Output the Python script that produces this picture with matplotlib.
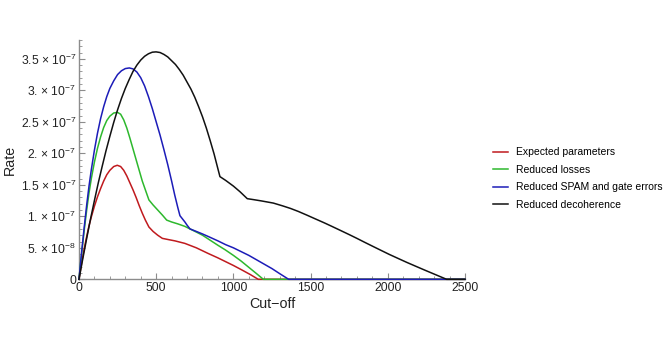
import matplotlib.pyplot as plt
from matplotlib.ticker import MultipleLocator, FixedLocator
import numpy as np

plt.rcParams['font.family'] = ['Liberation Sans', 'DejaVu Sans']
plt.rcParams['mathtext.fontset'] = 'custom'
plt.rcParams['mathtext.rm'] = 'Liberation Sans'
plt.rcParams['mathtext.it'] = 'Liberation Sans'

# cut-off vs rate (rate in units of 1e-7)
x_expected = [0, 10, 20, 35, 50, 65, 80, 100, 120, 140, 160, 180, 200, 225, 248,
              270, 290, 310, 330, 350, 370, 390, 410, 430, 453, 480, 510, 540,
              580, 622, 686, 760, 837, 900, 950, 1000, 1054, 1110, 1161, 2500]
y_expected = [0, 0.15, 0.3, 0.5, 0.68, 0.85, 0.99, 1.16, 1.31, 1.44, 1.56, 1.66,
              1.73, 1.79, 1.81, 1.79, 1.73, 1.64, 1.53, 1.42, 1.3, 1.17, 1.05,
              0.94, 0.83, 0.76, 0.7, 0.65, 0.63, 0.61, 0.57, 0.5, 0.41, 0.34,
              0.28, 0.22, 0.15, 0.075, 0, 0]

x_losses = [0, 10, 20, 35, 50, 65, 80, 100, 120, 140, 160, 180, 200, 225, 250,
            270, 290, 310, 330, 350, 370, 390, 410, 430, 453, 480, 510, 540, 568,
            600, 640, 686, 719, 760, 800, 850, 900, 946, 1000, 1050, 1100, 1150,
            1194, 2500]
y_losses = [0, 0.24, 0.47, 0.8, 1.1, 1.37, 1.6, 1.86, 2.08, 2.26, 2.41, 2.52,
            2.59, 2.64, 2.65, 2.62, 2.53, 2.4, 2.24, 2.07, 1.9, 1.73, 1.56, 1.42,
            1.26, 1.18, 1.1, 1.02, 0.94, 0.91, 0.88, 0.84, 0.8, 0.75, 0.7, 0.62,
            0.54, 0.47, 0.38, 0.29, 0.19, 0.09, 0, 0]

x_spam = [0, 10, 20, 35, 50, 65, 80, 100, 120, 140, 160, 180, 200, 225, 250, 275,
          300, 326, 350, 375, 400, 425, 450, 475, 500, 525, 550, 575, 600, 620,
          640, 654, 670, 686, 700, 719, 760, 800, 837, 900, 950, 1000, 1050,
          1100, 1150, 1200, 1250, 1300, 1358, 2500]
y_spam = [0, 0.25, 0.5, 0.85, 1.18, 1.48, 1.74, 2.05, 2.32, 2.55, 2.74, 2.9,
          3.03, 3.15, 3.25, 3.31, 3.345, 3.355, 3.34, 3.29, 3.2, 3.07, 2.9, 2.71,
          2.5, 2.29, 2.06, 1.82, 1.56, 1.34, 1.14, 1.01, 0.96, 0.91, 0.86, 0.8,
          0.76, 0.72, 0.68, 0.61, 0.55, 0.5, 0.44, 0.38, 0.31, 0.24, 0.17, 0.09,
          0, 0]

x_decoh = [0, 25, 50, 75, 100, 125, 150, 175, 200, 225, 250, 275, 300, 325, 350,
           375, 400, 425, 450, 475, 499, 525, 550, 575, 600, 625, 650, 675, 700,
           725, 750, 775, 800, 825, 850, 875, 895, 913, 950, 1000, 1043, 1090,
           1130, 1180, 1259, 1320, 1370, 1420, 1475, 1530, 1590, 1640, 1690,
           1750, 1800, 1850, 1906, 1960, 2010, 2070, 2122, 2190, 2250, 2320,
           2381, 2500]
y_decoh = [0, 0.33, 0.65, 0.96, 1.25, 1.53, 1.79, 2.04, 2.27, 2.49, 2.69, 2.87,
           3.03, 3.17, 3.3, 3.4, 3.48, 3.54, 3.58, 3.605, 3.61, 3.6, 3.57, 3.53,
           3.47, 3.41, 3.33, 3.24, 3.13, 3.02, 2.89, 2.74, 2.58, 2.4, 2.2, 1.99,
           1.8, 1.63, 1.57, 1.48, 1.39, 1.28, 1.265, 1.245, 1.21, 1.165, 1.125,
           1.078, 1.02, 0.96, 0.895, 0.838, 0.78, 0.71, 0.65, 0.588, 0.52, 0.455,
           0.395, 0.328, 0.27, 0.198, 0.135, 0.063, 0, 0]

labels = ["Expected parameters", "Reduced losses",
          "Reduced SPAM and gate errors", "Reduced decoherence"]
colors = ["#c01a1e", "#2db82d", "#1c1cb8", "#111111"]

y_ticks = [0, 0.5, 1.0, 1.5, 2.0, 2.5, 3.0, 3.5]
y_tick_labels = ["0", "5. × 10$^{-8}$", "1. × 10$^{-7}$", "1.5 × 10$^{-7}$",
                 "2. × 10$^{-7}$", "2.5 × 10$^{-7}$", "3. × 10$^{-7}$",
                 "3.5 × 10$^{-7}$"]


def main():
    fig = plt.figure(figsize=(6.67, 3.42), dpi=100)
    ax = fig.add_axes([0.1184, 0.1833, 0.5787, 0.7])

    series = [(x_expected, y_expected), (x_losses, y_losses),
              (x_spam, y_spam), (x_decoh, y_decoh)]
    for (xs, ys), lab, col in zip(series, labels, colors):
        ax.plot(xs, np.array(ys) * 1e-7, color=col, lw=1.1, label=lab,
                clip_on=False, zorder=3, solid_joinstyle="round")

    ax.set_xlim(0, 2500)
    ax.set_ylim(0, 3.8e-7)
    ax.xaxis.set_major_locator(MultipleLocator(500))
    ax.xaxis.set_minor_locator(MultipleLocator(100))
    ax.yaxis.set_major_locator(FixedLocator(np.array(y_ticks) * 1e-7))
    ax.yaxis.set_minor_locator(MultipleLocator(1e-8))
    ax.set_yticklabels(y_tick_labels)

    for side in ["top", "right"]:
        ax.spines[side].set_visible(False)
    for side in ["left", "bottom"]:
        ax.spines[side].set_color("#8c8c8c")
        ax.spines[side].set_linewidth(1.0)
    ax.tick_params(which="both", direction="in", color="#8c8c8c",
                   labelsize=8.7, labelcolor="#222222", pad=2)
    ax.tick_params(which="major", length=4)
    ax.tick_params(which="minor", length=2)

    ax.set_xlabel("Cut−off", fontsize=10.3, color="#222222", labelpad=2)
    ax.set_ylabel("Rate", fontsize=10.3, color="#222222", va="center")
    ax.yaxis.set_label_coords(-0.179, 0.5)

    fig.legend(loc="center left", bbox_to_anchor=(0.725, 0.478), frameon=False,
               fontsize=7.5, handlelength=1.45, handletextpad=0.75,
               labelspacing=0.72)

    fig.savefig("out.png", dpi=100)


if "__main__" == __name__:
    main()
